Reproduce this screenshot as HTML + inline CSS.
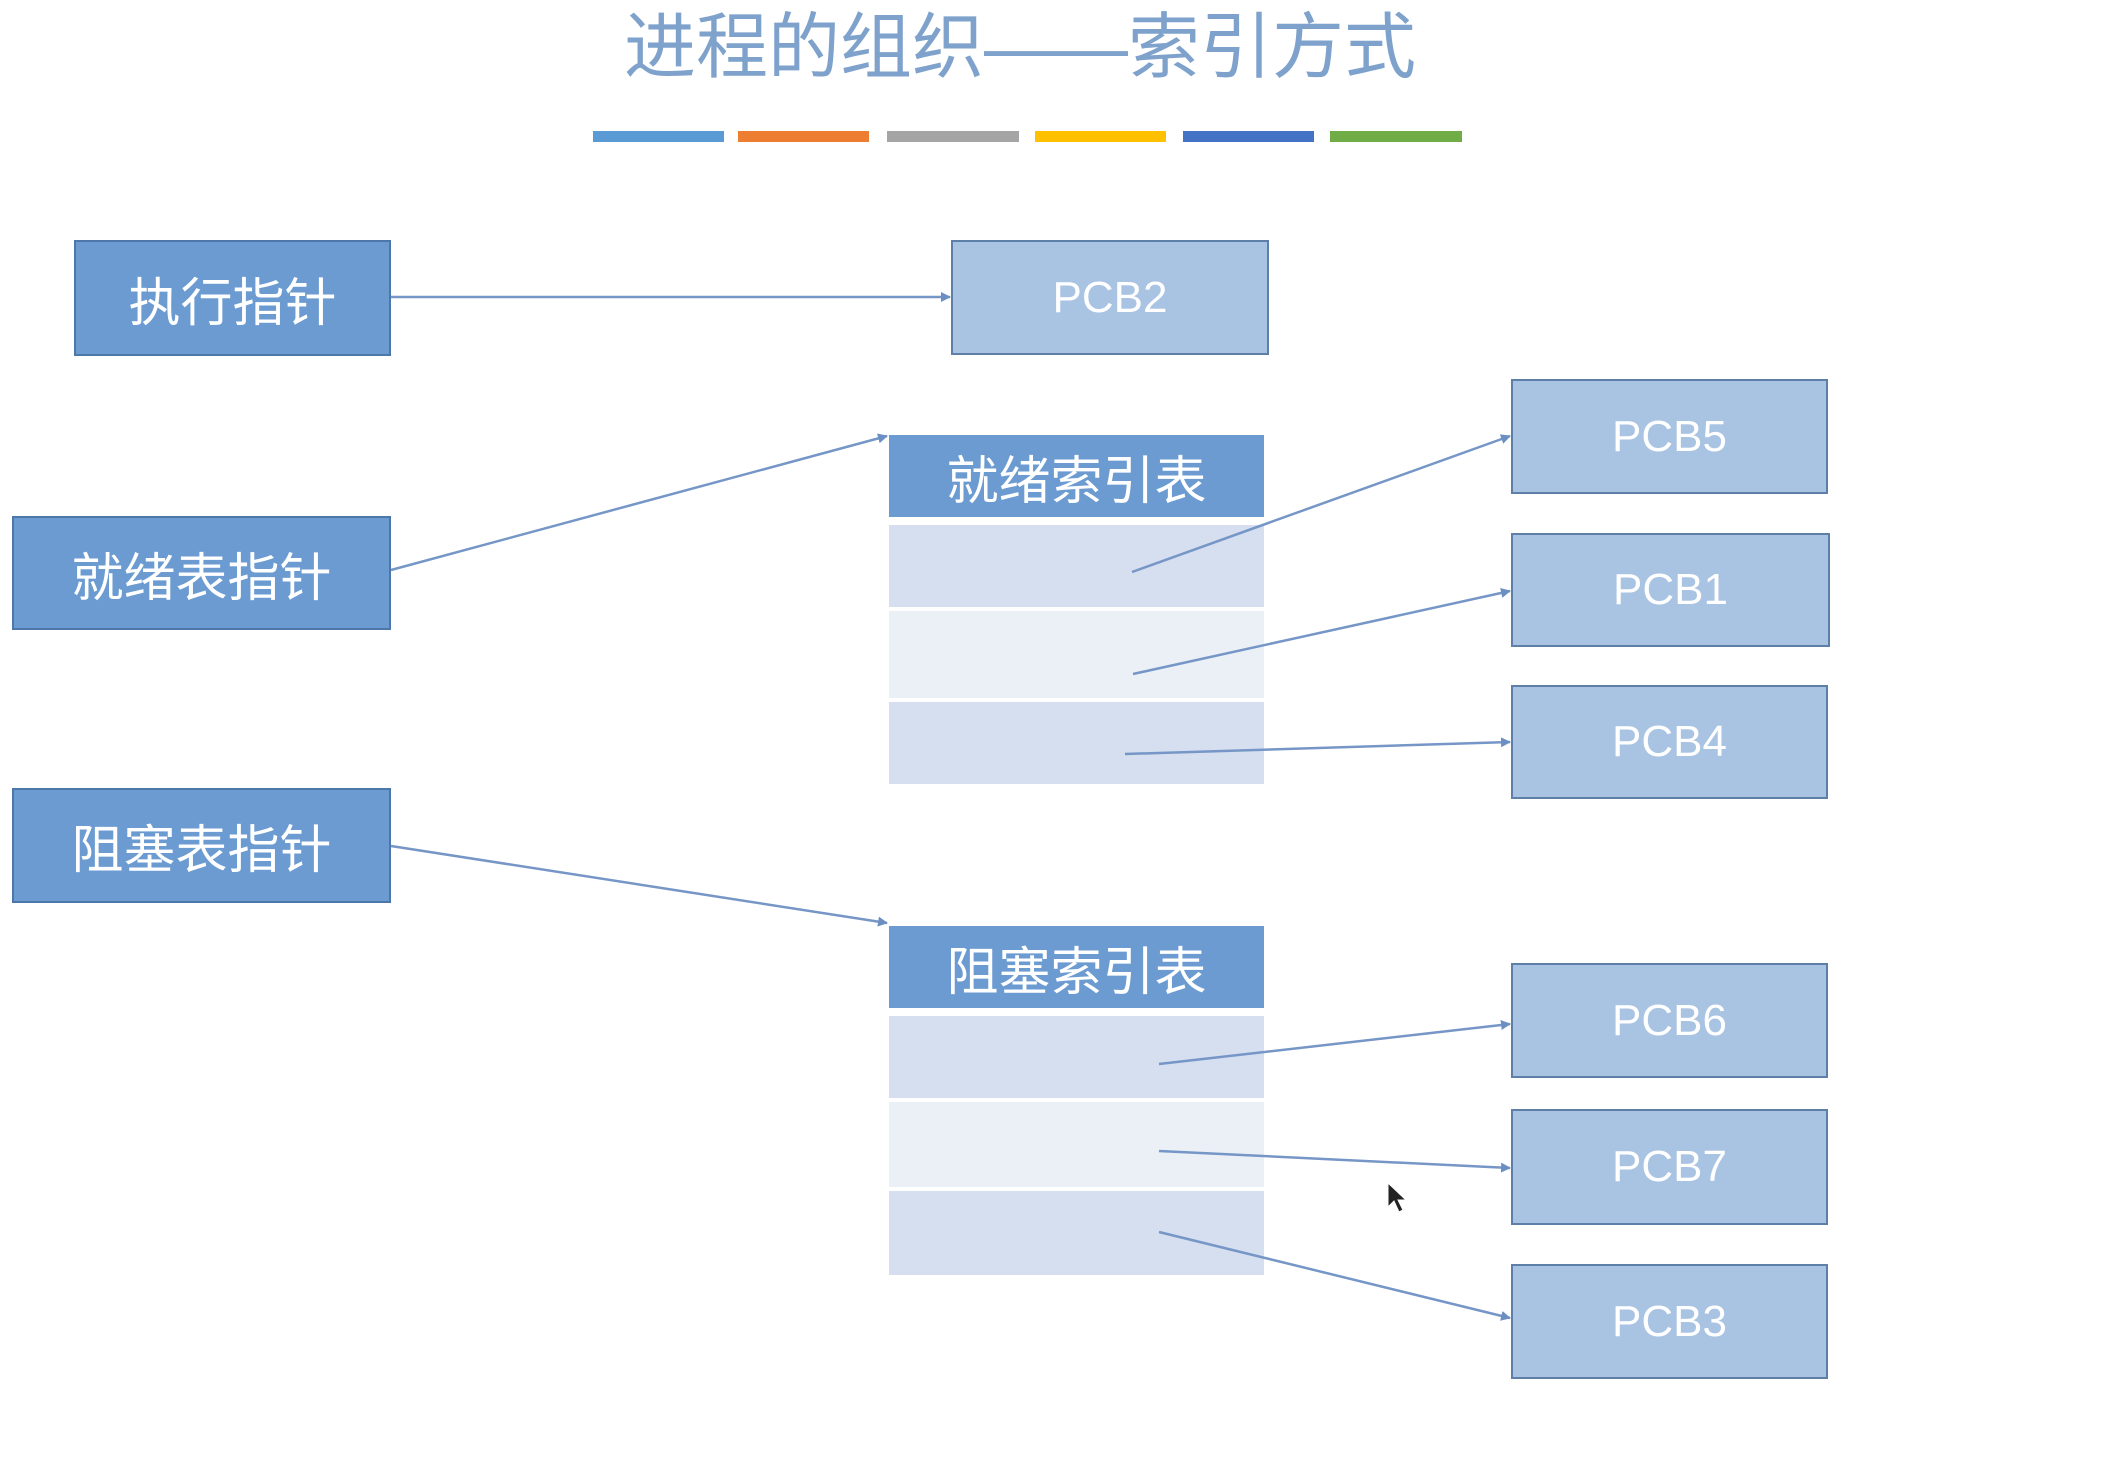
<!DOCTYPE html>
<html><head><meta charset="utf-8"><style>
html,body{margin:0;padding:0;background:#fff;}
body{width:2122px;height:1466px;position:relative;overflow:hidden;font-family:"Liberation Sans","Noto Sans CJK SC",sans-serif;}
.b{position:absolute;box-sizing:border-box;display:flex;align-items:center;justify-content:center;color:#fff;}
.d{background:#6b9bd1;border:2px solid #4d77a8;font-size:52px;}
.p{background:#a9c3e3;border:2px solid #5d7fa8;font-size:44px;}
.h{background:#6b9bd1;font-size:52px;border-bottom:4px solid #fff;}
.r1{background:#d6dfef;}
.r2{background:#ebf0f7;}
.bar{position:absolute;top:131px;height:11px;}
</style></head><body>
<div style="position:absolute;left:560px;top:0;width:920px;text-align:center;font-size:72px;color:#7ea2cb;line-height:96px;">进程的组织——索引方式</div>
<div class="bar" style="left:593px;width:131px;background:#5b9bd5"></div>
<div class="bar" style="left:738px;width:131px;background:#ed7d31"></div>
<div class="bar" style="left:887px;width:132px;background:#a5a5a5"></div>
<div class="bar" style="left:1035px;width:131px;background:#ffc000"></div>
<div class="bar" style="left:1183px;width:131px;background:#4472c4"></div>
<div class="bar" style="left:1330px;width:132px;background:#70ad47"></div>

<div class="b d" style="left:74px;top:240px;width:317px;height:116px;">执行指针</div>
<div class="b d" style="left:12px;top:516px;width:379px;height:114px;">就绪表指针</div>
<div class="b d" style="left:12px;top:788px;width:379px;height:115px;">阻塞表指针</div>

<div class="b p" style="left:951px;top:240px;width:318px;height:115px;">PCB2</div>
<div class="b p" style="left:1511px;top:379px;width:317px;height:115px;">PCB5</div>
<div class="b p" style="left:1511px;top:533px;width:319px;height:114px;">PCB1</div>
<div class="b p" style="left:1511px;top:685px;width:317px;height:114px;">PCB4</div>
<div class="b p" style="left:1511px;top:963px;width:317px;height:115px;">PCB6</div>
<div class="b p" style="left:1511px;top:1109px;width:317px;height:116px;">PCB7</div>
<div class="b p" style="left:1511px;top:1264px;width:317px;height:115px;">PCB3</div>

<div class="b h" style="left:889px;top:435px;width:375px;height:86px;">就绪索引表</div>
<div class="b r1" style="left:889px;top:525px;width:375px;height:82px;"></div>
<div class="b r2" style="left:889px;top:611px;width:375px;height:87px;"></div>
<div class="b r1" style="left:889px;top:702px;width:375px;height:82px;"></div>

<div class="b h" style="left:889px;top:926px;width:375px;height:86px;">阻塞索引表</div>
<div class="b r1" style="left:889px;top:1016px;width:375px;height:82px;"></div>
<div class="b r2" style="left:889px;top:1102px;width:375px;height:85px;"></div>
<div class="b r1" style="left:889px;top:1191px;width:375px;height:84px;"></div>

<svg width="2122" height="1466" style="position:absolute;left:0;top:0">
<defs><marker id="a" markerWidth="10" markerHeight="10" refX="9" refY="5" orient="auto" markerUnits="userSpaceOnUse"><path d="M0,0 L10,5 L0,10 z" fill="#6b8fc2"/></marker></defs>
<g stroke="#7596c6" stroke-width="2.5" fill="none" marker-end="url(#a)">
<line x1="391" y1="297" x2="950" y2="297"/>
<line x1="391" y1="570" x2="887" y2="436"/>
<line x1="391" y1="846" x2="887" y2="923"/>
<line x1="1132" y1="572" x2="1510" y2="436"/>
<line x1="1133" y1="674" x2="1510" y2="591"/>
<line x1="1125" y1="754" x2="1510" y2="742"/>
<line x1="1159" y1="1064" x2="1510" y2="1024"/>
<line x1="1159" y1="1151" x2="1510" y2="1168"/>
<line x1="1159" y1="1232" x2="1510" y2="1318"/>
</g>
<path d="M1388,1183 l0,24 l6,-6 l5,11 l4,-2 l-5,-10 l8,0 z" fill="#222" stroke="#fff" stroke-width="1"/>
</svg>
</body></html>
